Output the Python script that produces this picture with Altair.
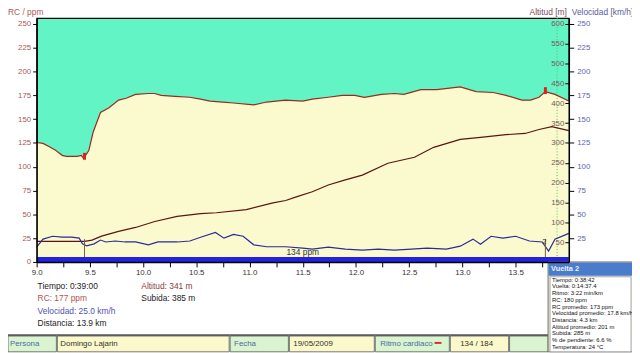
import altair as alt
import pandas as pd

# ---------------- data ----------------
HR_KM = [9.00, 9.06, 9.12, 9.17, 9.24, 9.28, 9.38, 9.42, 9.44, 9.46, 9.49, 9.53, 9.57, 9.60, 9.68,
         9.77, 9.84, 9.93, 10.05, 10.11, 10.17, 10.30, 10.44, 10.54, 10.63, 10.75, 10.85, 11.04,
         11.16, 11.34, 11.50, 11.59, 11.74, 11.87, 11.99, 12.08, 12.24, 12.36, 12.45, 12.61,
         12.76, 12.98, 13.13, 13.29, 13.41, 13.56, 13.64, 13.72, 13.78, 13.87, 14.00]
HR_PPM = [125.5, 124.5, 121, 118, 112, 111, 111, 112, 109, 112, 117, 136, 148, 157, 162,
          170, 172, 176, 177, 177, 175, 174, 173, 171, 169, 168, 167, 165,
          168, 170, 169, 171, 173, 175, 175, 173, 176, 177, 176, 181,
          181, 184, 179, 178, 175, 170, 170, 173, 179, 176, 169]

ALT_KM = [9.00, 9.45, 9.52, 9.61, 9.77, 9.93, 10.11, 10.32, 10.54, 10.69, 10.97, 11.22, 11.34,
          11.44, 11.59, 11.74, 11.90, 12.06, 12.30, 12.55, 12.73, 12.98, 13.17, 13.41, 13.59,
          13.72, 13.84, 14.00]
ALT_M = [52, 52, 55, 65, 77, 87, 102, 115, 122, 124, 132, 149, 155,
         164, 177, 194, 207, 219, 249, 264, 289, 309, 314, 321, 324,
         334, 341, 331]

SPD_KM = [9.00, 9.06, 9.15, 9.24, 9.33, 9.40, 9.43, 9.47, 9.54, 9.60, 9.65, 9.74, 9.83, 9.93,
          10.05, 10.14, 10.32, 10.44, 10.54, 10.68, 10.76, 10.85, 10.94, 11.04, 11.16, 11.34,
          11.50, 11.59, 11.74, 11.90, 12.06, 12.21, 12.36, 12.52, 12.67, 12.85, 12.98, 13.10,
          13.17, 13.27, 13.38, 13.50, 13.63, 13.75, 13.81, 13.87, 14.00]
SPD_KMH = [15.5, 24, 27, 26, 26, 25, 19, 17, 19, 23, 21, 22, 21, 21,
           18, 21, 21, 22, 26, 31, 25, 29, 27, 18, 16, 16,
           14.5, 13.5, 15.5, 13.5, 12.4, 13.5, 12.5, 13.5, 14.5, 13.5, 16.6, 24,
           18.7, 27, 25, 27, 22, 21, 11.4, 24, 30]

LAP_KM = [9.45, 13.78]
LAP_MARK_PPM = [111, 180]
LAP_LABEL = "2"
CURSOR_KM = [13.89]
AVG_LABEL = "134 ppm"

X_LABEL_TICKS = [9.0, 9.5, 10.0, 10.5, 11.0, 11.5, 12.0, 12.5, 13.0, 13.5]
X_MINOR_TICKS = [9.25, 9.75, 10.25, 10.75, 11.25, 11.75, 12.25, 12.75, 13.25, 13.75]
HR_TICKS = [0, 25, 50, 75, 100, 125, 150, 175, 200, 225, 250]
ALT_TICKS = [50, 100, 150, 200, 250, 300, 350, 400, 450, 500, 550, 600]
SPD_TICKS = [25, 50, 75, 100, 125, 150, 175, 200, 225, 250]

TITLE_HR = "RC / ppm"
TITLE_ALT = "Altitud [m]"
TITLE_SPD = "Velocidad [km/h]"

INFO_LEFT = ["Tiempo: 0:39:00", "RC: 177 ppm", "Velocidad: 25.0 km/h", "Distancia: 13.9 km"]
INFO_RIGHT = ["Altitud: 341 m", "Subida: 385 m"]

TABLE_TEXT = ["Persona", "Domingo Lajarin", "Fecha", "19/05/2009", "Ritmo cardiaco", "134 / 184", ""]

POPUP_TITLE = "Vuelta 2"
POPUP_LINES = ["Tiempo: 0:38:42", "Vuelta: 0:14:37.4", "Ritmo: 3:22 min/km", "RC: 180 ppm",
               "RC promedio:  173 ppm", "Velocidad promedio:  17.8 km/h", "Distancia:  4.3 km",
               "Altitud promedio:  201 m", "Subida:  285 m", "% de pendiente: 6.6 %",
               "Temperatura: 24 °C"]

# ---------------- layout / style ----------------
W, H = 539, 247
PAD = {"left": 29, "top": 8, "right": 64, "bottom": 90}
X_DOMAIN = [9.0, 14.0]
HR_MAX = 256.2
ALT_MAX = HR_MAX * 2.4
FONT = "Liberation Sans"
TEAL = "#63F4C6"
YELLOW = "#FBF9CE"
C_HR = "#9A2A1E"
C_ALT = "#5C1414"
C_SPD = "#2B2B9C"

xs = alt.Scale(domain=X_DOMAIN, nice=False, zero=False)
hr_scale = alt.Scale(domain=[0, HR_MAX], nice=False, zero=True)
alt_scale = alt.Scale(domain=[0, ALT_MAX], nice=False, zero=True)

hr_df = pd.DataFrame({"km": HR_KM, "v": HR_PPM})
alt_df = pd.DataFrame({"km": ALT_KM, "v": ALT_M})
spd_df = pd.DataFrame({"km": SPD_KM, "v": SPD_KMH})
lap_df = pd.DataFrame({"km": LAP_KM, "v": LAP_MARK_PPM})
cur_df = pd.DataFrame({"km": CURSOR_KM})

x_axis = alt.Axis(values=X_LABEL_TICKS, orient="bottom", title=None, grid=False, tickSize=5,
                  tickColor="black", domainColor="black", domainWidth=1.5, labelFont=FONT,
                  labelFontSize=8, labelColor="#333333", labelPadding=2, zindex=1, format=".1f",
                  labelFlush=False)
x_minor_axis = alt.Axis(values=X_MINOR_TICKS, orient="bottom", title=None, grid=False,
                        tickSize=5, tickColor="black", domain=False, labels=False, zindex=1)
hr_axis = alt.Axis(values=HR_TICKS, orient="left", title=None, grid=False, tickSize=4,
                   tickColor="black", domainColor="black", domainWidth=1.5, labelFont=FONT,
                   labelFontSize=8, labelColor="#A85A5A", labelPadding=2, zindex=1)
alt_axis = alt.Axis(values=ALT_TICKS, orient="left", offset=-W, title=None, grid=False,
                    tickSize=4, tickColor="black", domain=False, labelFont=FONT, labelFontSize=8,
                    labelColor="#7A5858", labelAlign="right", labelPadding=1, zindex=1)
spd_axis = alt.Axis(values=SPD_TICKS, orient="right", title=None, grid=False, tickSize=5,
                    tickColor="black", domainColor="black", domainWidth=1.5, labelFont=FONT,
                    labelFontSize=8, labelColor="#6464AE", labelPadding=3, zindex=1)

X = alt.X("km:Q", scale=xs, axis=None)

area = alt.Chart(hr_df).mark_area(color=YELLOW, opacity=1).encode(
    x=alt.X("km:Q", scale=xs, axis=x_minor_axis),
    y=alt.Y("v:Q", scale=hr_scale, axis=hr_axis, stack=None))

cursor = alt.Chart(cur_df).mark_rule(color="#5CC05C", strokeDash=[1, 2], strokeWidth=1).encode(
    x=X, y=alt.value(0), y2=alt.value(H))

alt_line = alt.Chart(alt_df).mark_line(color=C_ALT, strokeWidth=1.2).encode(
    x=X, y=alt.Y("v:Q", scale=alt_scale, axis=alt_axis))

spd_line = alt.Chart(spd_df).mark_line(color=C_SPD, strokeWidth=1.2).encode(
    x=X, y=alt.Y("v:Q", scale=hr_scale, axis=spd_axis))

hr_line = alt.Chart(hr_df).mark_line(color=C_HR, strokeWidth=1.2).encode(
    x=alt.X("km:Q", scale=xs, axis=x_axis),
    y=alt.Y("v:Q", scale=hr_scale, axis=None))

lap_rules = alt.Chart(lap_df).mark_rule(color="#7A5A3A", strokeWidth=1).encode(
    x=X, y=alt.YDatum(5, scale=hr_scale, axis=None), y2=alt.Y2Datum(24))

markers = alt.Chart(lap_df).mark_tick(orient="vertical", color="#E02020", size=7, thickness=3,
                                      opacity=1).encode(
    x=X, y=alt.Y("v:Q", scale=hr_scale, axis=None))

band = alt.Chart(pd.DataFrame({"a": [X_DOMAIN[0]], "b": [X_DOMAIN[1]]})).mark_rect(
    color="#2222E2").encode(
    x=alt.X("a:Q", scale=xs, axis=None), x2="b:Q",
    y=alt.YDatum(5.2, scale=hr_scale, axis=None), y2=alt.Y2Datum(0))

avg_text = alt.Chart(pd.DataFrame({"km": [sum(X_DOMAIN) / 2], "t": [AVG_LABEL]})).mark_text(
    font=FONT, fontSize=8.5, color="#333333", baseline="middle").encode(
    x=X, y=alt.YDatum(10.5, scale=hr_scale, axis=None), text="t:N")

lap_text = alt.Chart(pd.DataFrame({"km": [LAP_KM[1]], "t": [LAP_LABEL]})).mark_text(
    font=FONT, fontSize=8, color="#333333", baseline="middle", dx=-1).encode(
    x=X, y=alt.YDatum(21, scale=hr_scale, axis=None), text="t:N")


def px_text(rows, **mk):
    df = pd.DataFrame(rows, columns=["x", "y", "t", "c"])
    return alt.Chart(df).mark_text(font=FONT, **mk).encode(
        x=alt.X("x:Q", scale=None, axis=None), y=alt.Y("y:Q", scale=None, axis=None), text="t:N",
        color=alt.Color("c:N", scale=None))


titles = px_text([(-29, -3, TITLE_HR, "#B05A5A")], fontSize=8.5, align="left", baseline="alphabetic") + \
    px_text([(537, -3, TITLE_ALT, "#7A4A5A")], fontSize=8.5, align="right", baseline="alphabetic") + \
    px_text([(542, -3, TITLE_SPD, "#5A5AA0")], fontSize=8.5, align="left", baseline="alphabetic")

info_colors_left = ["#222222", "#B85050", "#5050B0", "#222222"]
info_y = [271.5, 283.5, 296.5, 309]
info_rows = [(1, info_y[i], INFO_LEFT[i], info_colors_left[i]) for i in range(len(INFO_LEFT))]
info_rows += [(106, info_y[0], INFO_RIGHT[0], "#8A4040"), (106, info_y[1], INFO_RIGHT[1], "#222222")]
info = px_text(info_rows, fontSize=8.5, align="left", baseline="middle")

# bottom table row
cell_edges = [(-29, 20), (21, 195), (196, 255), (256, 342), (343, 418), (419, 478), (479, 518)]
cell_fill = ["#D9F4CF", "#FBF9CB", "#D9F4CF", "#FBF9CB", "#D9F4CF", "#FBF9CB", "#D9F4CF"]
cells_df = pd.DataFrame({"x": [e[0] for e in cell_edges], "x2": [e[1] for e in cell_edges],
                         "c": cell_fill})
cells = alt.Chart(cells_df).mark_rect(stroke="#555555", strokeWidth=0.8).encode(
    x=alt.X("x:Q", scale=None, axis=None), x2="x2:Q", y=alt.value(322), y2=alt.value(338),
    fill=alt.Color("c:N", scale=None))
table_line = alt.Chart(pd.DataFrame({"a": [0]})).mark_rule(color="black", strokeWidth=1.2).encode(
    x=alt.value(-29), x2=alt.value(518), y=alt.value(321))
cell_text_x = [-27, 24, 200, 260, 348, 429, 482]
cell_text_c = ["#4A6AA8", "#303030", "#4A6AA8", "#303030", "#4A6AA8", "#303030", "#303030"]
table_text = px_text([(cell_text_x[i], 330, TABLE_TEXT[i], cell_text_c[i]) for i in range(len(TABLE_TEXT))],
                     fontSize=8, align="left", baseline="middle")
red_dash = alt.Chart(pd.DataFrame({"a": [0]})).mark_rule(color="#D03030", strokeWidth=2).encode(
    x=alt.value(403), x2=alt.value(410), y=alt.value(329))

# popup box
popup_bg = alt.Chart(pd.DataFrame({"a": [0]})).mark_rect(fill="#ECE9D8", stroke="#6F6F6F",
                                                         strokeWidth=1).encode(
    x=alt.value(518), x2=alt.value(604), y=alt.value(247), y2=alt.value(338))
popup_bar = alt.Chart(pd.DataFrame({"a": [0]})).mark_rect(fill="#4B7BCB").encode(
    x=alt.value(518.5), x2=alt.value(604), y=alt.value(247.5), y2=alt.value(261))
popup_inner = alt.Chart(pd.DataFrame({"a": [0]})).mark_rect(fill="white", stroke="#9A9A9A",
                                                            strokeWidth=0.8).encode(
    x=alt.value(520), x2=alt.value(602), y=alt.value(262), y2=alt.value(338))
popup_title = px_text([(521, 254.5, POPUP_TITLE, "#EAF2FF")], fontSize=7.5, fontWeight="bold",
                      align="left", baseline="middle")
popup_text = px_text([(522, 265 + i * 6.8, POPUP_LINES[i], "#111111") for i in range(len(POPUP_LINES))],
                     fontSize=6, align="left", baseline="middle")

chart = alt.layer(
    area, cursor, alt_line, spd_line, hr_line, lap_rules, markers, band, avg_text, lap_text,
    titles, info, cells, table_line, table_text, red_dash,
    popup_bg, popup_bar, popup_inner, popup_title, popup_text
).resolve_scale(y="independent").resolve_axis(x="independent").properties(
    width=W, height=H, padding=PAD, autosize="none"
).configure_view(fill=TEAL, stroke="black", strokeWidth=1.2)

chart.save("out.html", embed_options={"renderer": "svg", "actions": False})
